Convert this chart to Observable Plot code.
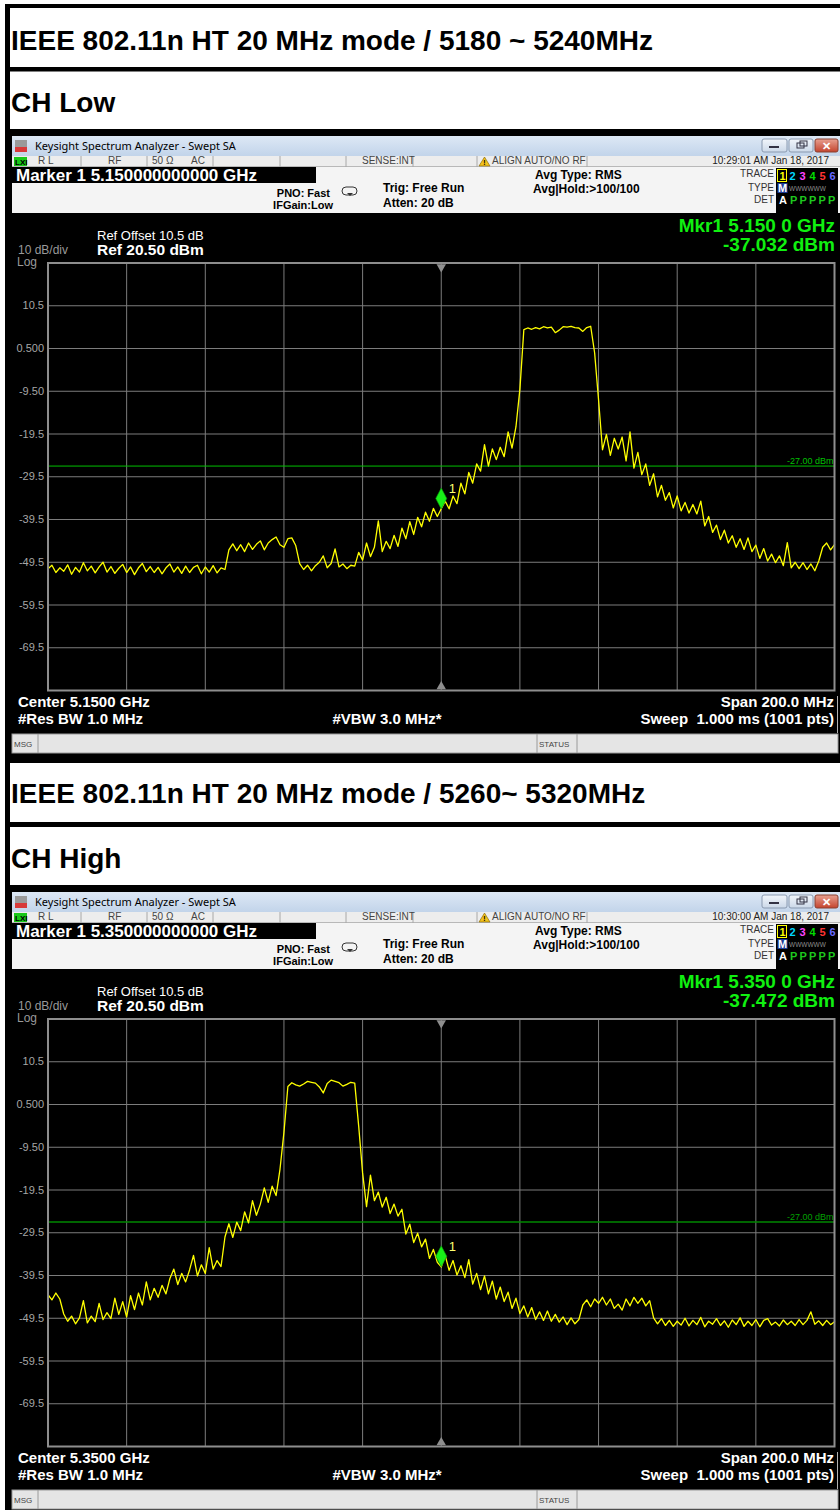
<!DOCTYPE html>
<html><head><meta charset="utf-8">
<script src="https://cdn.jsdelivr.net/npm/d3@7"></script>
<script src="https://cdn.jsdelivr.net/npm/@observablehq/plot@0.6"></script>
<style>
body{margin:0;background:#fff;}
#page{position:relative;width:840px;height:1510px;overflow:hidden;background:#fff;}
.plotwrap{position:absolute;}
</style></head><body><div id="page"></div>
<script>
// ---------------- data ----------------
const headings = ["IEEE 802.11n HT 20 MHz mode / 5180 ~ 5240MHz", "IEEE 802.11n HT 20 MHz mode / 5260~ 5320MHz"];
const channels = ["CH Low", "CH High"];
const centerMHz = [5150, 5350];
const spanMHz = 200;
const stepMHz = 1;
const refLevel = 20.5;
const dbPerDiv = 10;
const yTicks = [10.5, 0.5, -9.5, -19.5, -29.5, -39.5, -49.5, -59.5, -69.5];
const yTickLabels = ["10.5", "0.500", "-9.50", "-19.5", "-29.5", "-39.5", "-49.5", "-59.5", "-69.5"];
const limitDbm = -27;
const limitLabel = "-27.00 dBm";

// CH Low trace, 5050..5250 MHz, 1 MHz steps
const lowDbm = [
 -51.0,-50.2,-51.9,-50.8,-51.6,-50.1,-52.3,-50.7,-51.8,-49.6,
 -51.5,-50.4,-52.0,-50.6,-49.5,-51.8,-50.5,-52.1,-50.9,-50.0,
 -51.9,-50.6,-52.4,-50.8,-49.8,-51.7,-50.5,-51.9,-50.7,-52.2,
 -50.8,-49.9,-51.8,-50.6,-52.1,-50.4,-51.9,-50.7,-50.2,-52.2,
 -50.6,-51.8,-50.3,-52.0,-50.8,-51.2,-46.6,-45.2,-46.8,-45.4,
 -47.0,-45.0,-46.5,-45.3,-44.5,-46.6,-45.0,-44.2,-43.6,-45.4,
 -46.0,-44.0,-43.8,-45.6,-49.8,-51.2,-50.2,-51.5,-50.3,-49.5,
 -48.0,-50.8,-49.8,-46.4,-50.6,-49.9,-51.0,-50.2,-50.4,-47.2,
 -49.0,-45.0,-48.2,-46.0,-39.8,-47.0,-44.6,-46.3,-43.2,-45.8,
 -41.5,-44.0,-40.0,-43.0,-39.0,-41.2,-37.8,-39.9,-36.9,-38.8,
 -37.0,-35.2,-37.0,-34.0,-35.8,-31.0,-33.5,-28.5,-31.0,-26.5,
 -28.2,-22.0,-27.0,-23.0,-25.5,-22.6,-24.8,-19.0,-22.8,-17.8,
 -9.0,4.9,5.3,5.0,5.4,5.1,5.6,5.3,5.5,4.2,
 4.8,5.6,5.5,5.7,5.4,5.3,4.5,5.4,5.7,-0.5,
 -11.5,-23.2,-19.6,-24.5,-20.5,-23.0,-20.2,-25.8,-19.0,-27.5,
 -23.8,-29.0,-26.5,-31.5,-28.8,-34.2,-31.5,-35.0,-33.2,-36.8,
 -34.0,-37.5,-35.5,-38.0,-36.0,-38.2,-35.2,-41.0,-38.8,-42.5,
 -40.8,-44.2,-42.0,-45.0,-43.3,-46.0,-44.0,-46.5,-43.8,-47.0,
 -45.5,-48.6,-46.3,-49.2,-47.6,-49.6,-48.0,-50.3,-44.9,-50.8,
 -49.5,-51.0,-49.6,-51.2,-49.9,-51.5,-49.2,-46.0,-45.0,-46.6,
 -45.4
];
// CH High trace, 5250..5450 MHz, 1 MHz steps
const highDbm = [
 -44.0,-45.2,-43.6,-45.0,-48.5,-50.2,-49.0,-50.8,-49.4,-45.4,
 -50.6,-49.0,-50.3,-46.0,-49.8,-48.2,-49.6,-44.8,-48.6,-45.6,
 -49.2,-44.2,-47.5,-43.6,-46.4,-41.0,-45.2,-42.5,-44.6,-41.8,
 -43.8,-40.2,-38.0,-41.6,-39.0,-41.0,-38.2,-34.8,-39.6,-37.0,
 -39.0,-33.0,-38.0,-36.0,-37.4,-30.5,-27.4,-30.6,-27.0,-29.0,
 -24.6,-27.2,-22.0,-25.4,-22.8,-19.0,-22.4,-18.6,-20.8,-14.6,
 -6.0,4.7,5.6,5.1,4.8,5.3,5.9,5.7,5.5,4.6,
 3.2,5.4,6.2,5.9,5.6,4.8,5.2,5.7,5.5,-4.5,
 -15.5,-23.4,-16.0,-22.0,-20.0,-23.5,-21.2,-25.0,-22.8,-25.6,
 -24.0,-29.8,-27.5,-31.8,-29.6,-32.8,-31.0,-35.5,-33.4,-36.4,
 -37.5,-34.8,-38.3,-36.0,-39.4,-37.2,-40.0,-35.8,-41.5,-39.0,
 -42.8,-39.6,-43.8,-40.8,-45.0,-42.2,-45.6,-43.4,-47.2,-44.8,
 -48.4,-46.6,-49.2,-47.0,-49.8,-48.0,-50.0,-47.8,-50.2,-48.6,
 -50.4,-49.2,-51.0,-49.4,-50.8,-49.8,-46.4,-45.2,-46.8,-45.0,
 -46.0,-44.6,-46.4,-45.0,-47.2,-46.2,-47.6,-45.0,-46.6,-44.6,
 -46.0,-44.8,-46.6,-45.4,-49.4,-50.8,-49.6,-51.2,-50.0,-51.4,
 -50.2,-51.1,-49.5,-51.3,-50.0,-51.0,-49.3,-51.5,-50.2,-50.9,
 -49.6,-51.2,-50.1,-51.6,-49.9,-51.0,-49.4,-51.4,-50.2,-51.2,
 -49.8,-51.5,-50.0,-49.6,-51.1,-50.4,-51.3,-49.9,-51.0,-50.2,
 -51.2,-49.8,-51.0,-50.0,-48.0,-50.9,-50.1,-51.2,-50.0,-51.0,
 -50.3
];
const traces = [lowDbm, highDbm];
const markerMHz = [5150, 5350];
const markerDbm = [-37.032, -37.472];
const markerHeader = ["Marker 1 5.150000000000 GHz", "Marker 1 5.350000000000 GHz"];
const markerFreqText = ["Mkr1 5.150 0 GHz", "Mkr1 5.350 0 GHz"];
const markerDbmText = ["-37.032 dBm", "-37.472 dBm"];
const centerText = ["Center 5.1500 GHz", "Center 5.3500 GHz"];
const timeText = ["10:29:01 AM Jan 18, 2017", "10:30:00 AM Jan 18, 2017"];
const statusItems = ["R L", "RF", "50 Ω", "AC", "SENSE:INT"];
const traceDigits = ["1", "2", "3", "4", "5", "6"];

// ---------------- drawing ----------------
const F = "'Liberation Sans', Arial, sans-serif";
const UI = "'Noto Sans', 'Open Sans', sans-serif";
const page = d3.select("#page");
const svg = page.append("svg").attr("width", 840).attr("height", 1510)
  .style("position", "absolute").style("left", 0).style("top", 0);
const defs = svg.append("defs");
const g1 = defs.append("linearGradient").attr("id", "tb").attr("x1", 0).attr("x2", 0).attr("y1", 0).attr("y2", 1);
g1.append("stop").attr("offset", 0).attr("stop-color", "#dde8f5");
g1.append("stop").attr("offset", 1).attr("stop-color", "#c2d4ea");
const g2 = defs.append("linearGradient").attr("id", "btn").attr("x1", 0).attr("x2", 0).attr("y1", 0).attr("y2", 1);
g2.append("stop").attr("offset", 0).attr("stop-color", "#f2f6fb");
g2.append("stop").attr("offset", 1).attr("stop-color", "#cbd8e8");
const g3 = defs.append("linearGradient").attr("id", "cls").attr("x1", 0).attr("x2", 0).attr("y1", 0).attr("y2", 1);
g3.append("stop").attr("offset", 0).attr("stop-color", "#e8a090");
g3.append("stop").attr("offset", 1).attr("stop-color", "#c4442e");

function rect(x, y, w, h, fill, o = {}) {
  const r = svg.append("rect").attr("x", x).attr("y", y).attr("width", w).attr("height", h).attr("fill", fill);
  for (const k in o) r.attr(k, o[k]);
  return r;
}
function line(x1, y1, x2, y2, stroke, w = 1) {
  return svg.append("line").attr("x1", x1).attr("y1", y1).attr("x2", x2).attr("y2", y2).attr("stroke", stroke).attr("stroke-width", w);
}
function text(x, y, s, o = {}) {
  return svg.append("text").attr("x", x).attr("y", y).text(s)
    .attr("font-family", o.ff || F).attr("font-size", o.fs || 12)
    .attr("font-weight", o.fw || "normal").attr("fill", o.fill || "#000")
    .attr("text-anchor", o.anchor || "start");
}

// table borders and headings
rect(5, 4, 835, 4, "#000");
rect(5, 4, 5, 1506, "#000");
text(11, 50, headings[0], {fs: 28, fw: "bold"});
rect(10, 67, 830, 4.5, "#000");
text(11, 112, channels[0], {fs: 28, fw: "bold"});
rect(10, 129, 830, 6, "#000");
rect(10, 135, 830, 628, "#000");
text(11, 803, headings[1], {fs: 28, fw: "bold"});
rect(10, 822, 830, 5, "#000");
text(11, 868, channels[1], {fs: 28, fw: "bold"});
rect(10, 885, 830, 6, "#000");
rect(10, 891, 830, 619, "#000");

function drawShot(k, off) {
  const Y = v => v + off;
  // title bar
  rect(12, Y(136), 828, 20, "url(#tb)");
  rect(15, Y(140), 12, 7, "#9a9a9a");
  rect(15, Y(147), 12, 5, "#d83a3a");
  text(35, Y(150), "Keysight Spectrum Analyzer - Swept SA", {ff: UI, fs: 11});
  rect(762, Y(139), 25, 13, "url(#btn)", {stroke: "#8a9ab0", rx: 2});
  rect(769, Y(146), 10, 2, "#334");
  rect(789, Y(139), 24, 13, "url(#btn)", {stroke: "#8a9ab0", rx: 2});
  rect(797, Y(143), 7, 5, "none", {stroke: "#334"});
  rect(800, Y(141), 7, 5, "none", {stroke: "#334"});
  rect(815, Y(139), 23, 13, "url(#cls)", {stroke: "#8a4030", rx: 2});
  text(826.5, Y(150), "✕", {fs: 11, fw: "bold", fill: "#fff", anchor: "middle"});
  // status row
  rect(12, Y(156), 828, 11, "#ededed");
  line(12, Y(166.5), 840, Y(166.5), "#b8b8b8");
  [81, 147, 213, 280, 346, 413, 477, 587].forEach(x => line(x, Y(156), x, Y(167), "#a8a8a8"));
  rect(14, Y(157), 13, 9, "#18c818");
  text(15, Y(165), "LXI", {fs: 8, fw: "bold", fill: "#000"});
  const sx = [38, 108, 152, 191, 362];
  statusItems.forEach((s, i) => text(sx[i], Y(164), s, {fs: 10, fill: "#444"}));
  svg.append("path").attr("d", `M479 ${Y(166)} L484.5 ${Y(157)} L490 ${Y(166)} Z`).attr("fill", "#f2c21b").attr("stroke", "#806000").attr("stroke-width", 0.6);
  text(484.5, Y(165.2), "!", {fs: 7, fw: "bold", anchor: "middle"});
  text(492, Y(164), "ALIGN AUTO/NO RF", {fs: 10, fill: "#444"});
  text(829, Y(164), timeText[k], {fs: 10, fill: "#222", anchor: "end"});
  // info panel
  rect(12, Y(167), 828, 46, "#f4f4f4");
  rect(12, Y(167), 304, 16, "#000");
  text(16, Y(181), markerHeader[k], {fs: 17, fw: "bold", fill: "#fff"});
  text(330, Y(197), "PNO: Fast", {fs: 11, fw: "bold", anchor: "end"});
  text(333, Y(209), "IFGain:Low", {fs: 11, fw: "bold", anchor: "end"});
  rect(342, Y(187), 15, 8, "none", {stroke: "#333", rx: 4, "stroke-width": 1});
  svg.append("path").attr("d", `M347 ${Y(193)} L353 ${Y(193)} L350 ${Y(196)} Z`).attr("fill", "#333");
  text(383, Y(192), "Trig: Free Run", {fs: 12, fw: "bold"});
  text(383, Y(207), "Atten: 20 dB", {fs: 12, fw: "bold"});
  text(535, Y(179), "Avg Type: RMS", {fs: 12, fw: "bold"});
  text(533, Y(193), "Avg|Hold:>100/100", {fs: 12, fw: "bold"});
  text(774, Y(177), "TRACE", {fs: 10, fill: "#333", anchor: "end"});
  text(774, Y(191), "TYPE", {fs: 10, fill: "#333", anchor: "end"});
  text(774, Y(203), "DET", {fs: 10, fill: "#333", anchor: "end"});
  rect(776, Y(168), 62, 45, "#000");
  const dCol = ["#ffff00", "#00d8ff", "#ff44ff", "#00dd00", "#ff3434", "#6a6aff"];
  traceDigits.forEach((d, i) => text(779.5 + i * 10, Y(180), d, {fs: 11, fw: "bold", fill: dCol[i]}));
  rect(777.5, Y(169.5), 9, 12, "none", {stroke: "#ffff00", "stroke-width": 1});
  rect(777.5, Y(183), 10, 10, "#1e3c96");
  text(778, Y(192), "M", {fs: 11, fw: "bold", fill: "#fff"});
  text(789, Y(191), "WWWWWW", {fs: 6.5, fill: "#8c8c8c"});
  text(779, Y(204), "A", {fs: 11, fw: "bold", fill: "#fff"});
  [0, 1, 2, 3, 4].forEach(i => text(790 + i * 9.5, Y(204), "P", {fs: 11, fw: "bold", fill: "#1ec81e"}));
  // black graticule header
  text(97, Y(240), "Ref Offset 10.5 dB", {fs: 13, fill: "#fff"});
  text(97, Y(255), "Ref 20.50 dBm", {fs: 15.5, fw: "bold", fill: "#fff"});
  text(18, Y(254), "10 dB/div", {fs: 12, fill: "#9a9a9a"});
  text(17, Y(266), "Log", {fs: 12, fill: "#9a9a9a"});
  text(835, Y(232), markerFreqText[k], {fs: 19, fw: "bold", fill: "#10f010", anchor: "end"});
  text(835, Y(251), markerDbmText[k], {fs: 19, fw: "bold", fill: "#10f010", anchor: "end"});
  // footer
  text(18, Y(707), centerText[k], {fs: 15, fw: "bold", fill: "#fff"});
  text(18, Y(724), "#Res BW 1.0 MHz", {fs: 15, fw: "bold", fill: "#fff"});
  text(387, Y(724), "#VBW 3.0 MHz*", {fs: 15, fw: "bold", fill: "#fff", anchor: "middle"});
  text(834, Y(707), "Span 200.0 MHz", {fs: 15, fw: "bold", fill: "#fff", anchor: "end"});
  text(834, Y(724), "Sweep  1.000 ms (1001 pts)", {fs: 15, fw: "bold", fill: "#fff", anchor: "end"}).attr("xml:space", "preserve").style("white-space", "pre");
  line(837.5, Y(696), 837.5, Y(733), "#b0b0b0");
  // msg bar
  rect(12, Y(734), 826, 19, "#e5e5e5", {stroke: "#9a9a9a"});
  line(38, Y(734), 38, Y(753), "#9a9a9a");
  line(537, Y(734), 537, Y(753), "#9a9a9a");
  line(577, Y(734), 577, Y(753), "#9a9a9a");
  text(14, Y(747), "MSG", {fs: 8, fill: "#444"});
  text(539, Y(747), "STATUS", {fs: 8, fill: "#444"});
}

const tallDiamond = {
  draw(ctx) {
    ctx.moveTo(0, -21); ctx.lineTo(5.5, -10.5); ctx.lineTo(0, 0); ctx.lineTo(-5.5, -10.5); ctx.closePath();
  }
};
const limitColor = ["#00c000", "#008800"];
const limitTextColor = ["#00c000", "#00a000"];

function drawPlot(k, off) {
  const c = centerMHz[k], f0 = c - spanMHz / 2, f1 = c + spanMHz / 2;
  const yMin = refLevel - 10 * dbPerDiv;
  const trace = traces[k].map((v, i) => ({f: f0 + i * stepMHz, v}));
  const xGrid = d3.range(1, 10).map(i => f0 + i * spanMHz / 10);
  const marker = [{f: markerMHz[k], v: markerDbm[k]}];
  const chart = Plot.plot({
    width: 830, height: 520,
    marginLeft: 37.5, marginRight: 6, marginTop: 49.5, marginBottom: 43,
    style: {background: "transparent", color: "#a6a6a6", fontFamily: F, fontSize: "11px", overflow: "visible"},
    x: {domain: [f0, f1], axis: null},
    y: {domain: [yMin, refLevel], axis: null},
    marks: [
      Plot.ruleX(xGrid, {stroke: "#7c7c7c", strokeWidth: 1}),
      Plot.ruleY(yTicks, {stroke: "#7c7c7c", strokeWidth: 1}),
      Plot.axisY(yTicks, {tickSize: 0, tickPadding: 4, tickFormat: d => yTickLabels[yTicks.indexOf(d)], label: null, fontSize: 11}),
      Plot.ruleY([limitDbm], {stroke: limitColor[k], strokeWidth: k === 0 ? 1 : 1.4}),
      Plot.text([limitDbm], {x: () => f1, y: d => d, text: () => limitLabel, textAnchor: "end", lineAnchor: "bottom", dx: -1, dy: -2, fill: limitTextColor[k], fontSize: 9}),
      Plot.line(trace, {x: "f", y: "v", stroke: "#ffff00", strokeWidth: 1.3}),
      Plot.frame({stroke: "#8e8e8e", strokeWidth: 2}),
      Plot.dot([c], {x: d => d, y: () => refLevel, symbol: "triangle", rotate: 180, r: 3.5, fill: "#8e8e8e", dy: 4}),
      Plot.dot([c], {x: d => d, y: () => yMin, symbol: "triangle", r: 3.5, fill: "#8e8e8e", dy: -4}),
      Plot.dot(marker, {x: "f", y: "v", symbol: tallDiamond, r: 5, fill: "#18f018", stroke: "#0a9a0a", strokeWidth: 0.6}),
      Plot.text(marker, {x: "f", y: "v", text: () => "1", dx: 11, dy: -20, fill: "#ffff70", fontSize: 13})
    ]
  });
  const wrap = page.append("div").attr("class", "plotwrap").style("left", "10px").style("top", (213 + off) + "px");
  wrap.node().appendChild(chart);
}

drawShot(0, 0);
drawShot(1, 756);
drawPlot(0, 0);
drawPlot(1, 756);
</script></body></html>
